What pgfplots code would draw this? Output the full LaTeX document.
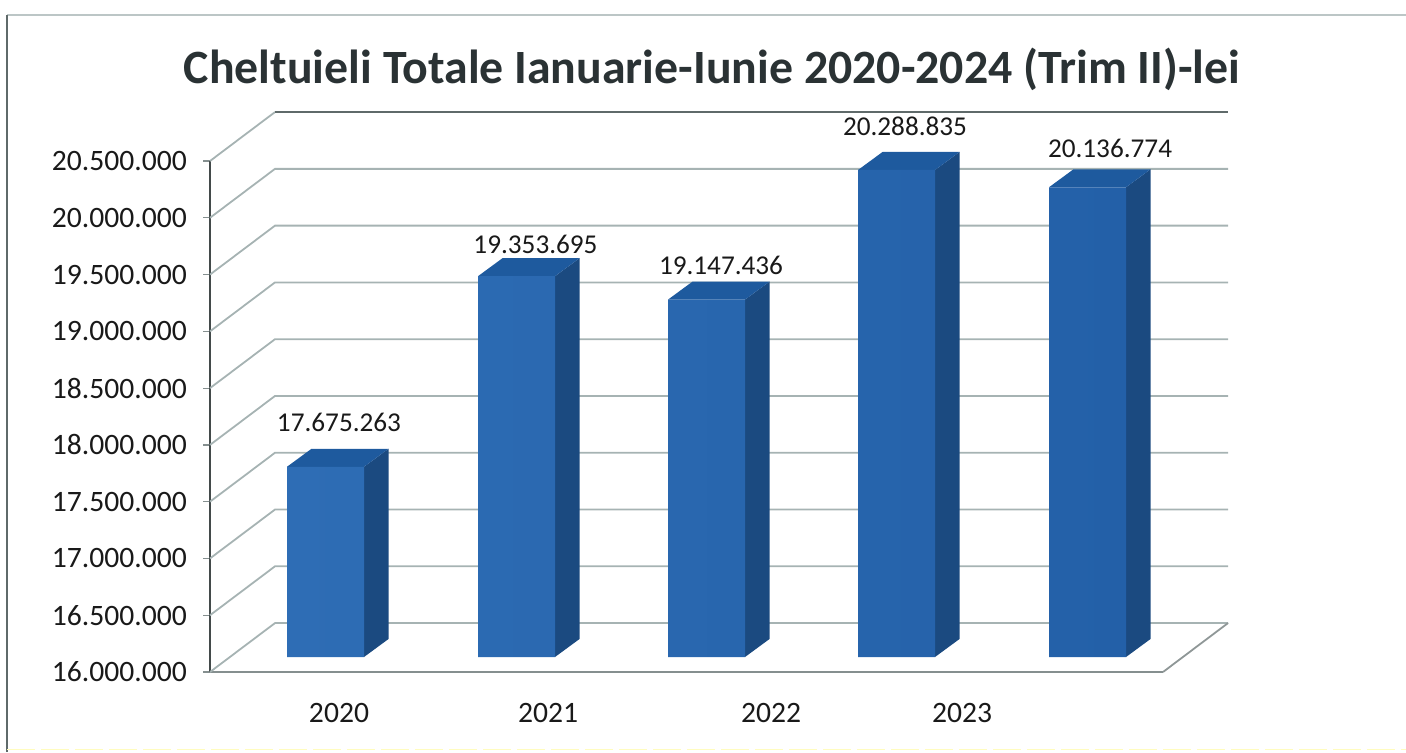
\documentclass[border=0pt]{standalone}
\usepackage{fontspec}
\usepackage{pgfplots}
\pgfplotsset{compat=1.18}
\setmainfont{Carlito}
\definecolor{gridc}{HTML}{A6B3B3}
\definecolor{darkline}{HTML}{5F6A6A}
\definecolor{titlec}{HTML}{2A3234}
\definecolor{barfrontl}{HTML}{2E6DB5}
\definecolor{barfrontr}{HTML}{2360A8}
\definecolor{bartop}{HTML}{1E5A9E}
\definecolor{barside}{HTML}{1B4A80}
\begin{document}
\begin{tikzpicture}
% 1 px of the reference = 0.5pt
\path[use as bounding box] (0,0) rectangle (703pt,376pt);
% scanned frame
\draw[gridc!75,line width=0.7pt] (3.5pt,368.5pt) -- (703pt,368.5pt);
\draw[darkline,line width=0.8pt] (3.5pt,368.5pt) -- (3.5pt,0pt);
\draw[yellow!25,line width=0.8pt,dash pattern=on 14pt off 3pt] (3.5pt,1.2pt) -- (703pt,1.2pt);

\begin{axis}[
    at={(105pt,40pt)}, anchor=south west,
    scale only axis,
    width=476.5pt, height=255.5pt,
    xmin=210, xmax=1163,
    ymin=16000000, ymax=20500000,
    clip=false,
    axis x line=bottom, axis y line=left,
    axis line style={-},
    x axis line style={gridc!80!black,line width=0.8pt},
    y axis line style={darkline!70!black,line width=0.8pt},
    xtick={339,548,771,962},
    xticklabels={2020,2021,2022,2023},
    x tick style={draw=none},
    xticklabel style={font=\fontsize{14.8}{16}\selectfont,text=black!90,yshift=-8.5pt},
    ytick distance=500000,
    tick align=outside,
    y tick style={gridc!80!black,line width=0.6pt},
    major tick length=3.5pt,
    scaled y ticks=false,
    yticklabel style={font=\fontsize{14.8}{16}\selectfont,text=black!90,xshift=-4.5pt,
        /pgf/number format/fixed,/pgf/number format/1000 sep={.},
        /pgf/number format/assume math mode=true},
    title={\bfseries Cheltuieli Totale Ianuarie-Iunie 2020-2024 (Trim II)-lei},
    title style={at={(0.5268,1.1565)},anchor=center,text=titlec,
        font=\fontsize{23.9}{27}\selectfont},
]
\pgfplotsset{every axis plot/.append style={no markers}}
\addplot[gridc,line width=0.9pt] coordinates {(210,16000000) (275,16431000) (1228,16431000)};
\addplot[gridc,line width=0.9pt] coordinates {(210,16500000) (275,16931000) (1228,16931000)};
\addplot[gridc,line width=0.9pt] coordinates {(210,17000000) (275,17431000) (1228,17431000)};
\addplot[gridc,line width=0.9pt] coordinates {(210,17500000) (275,17931000) (1228,17931000)};
\addplot[gridc,line width=0.9pt] coordinates {(210,18000000) (275,18431000) (1228,18431000)};
\addplot[gridc,line width=0.9pt] coordinates {(210,18500000) (275,18931000) (1228,18931000)};
\addplot[gridc,line width=0.9pt] coordinates {(210,19000000) (275,19431000) (1228,19431000)};
\addplot[gridc,line width=0.9pt] coordinates {(210,19500000) (275,19931000) (1228,19931000)};
\addplot[gridc,line width=0.9pt] coordinates {(210,20000000) (275,20431000) (1228,20431000)};
\addplot[gridc,line width=0.9pt] coordinates {(210,20500000) (275,20931000)};
\addplot[darkline,line width=0.9pt] coordinates {(275,20931000) (1228,20931000)};
\addplot[darkline!70,line width=0.9pt] coordinates {(1163,16000000) (1228,16431000)};
\end{axis}

% bars stand 15 px above the front edge of the floor
\begin{axis}[
    at={(105pt,47.5pt)}, anchor=south west,
    scale only axis,
    width=476.5pt, height=255.5pt,
    xmin=210, xmax=1163,
    ymin=16000000, ymax=20500000,
    clip=false,
    hide axis,
]
% side faces
\addplot[fill=barside,draw=none] coordinates {(364,16000000) (388.5,16158500) (388.5,17833763) (364,17675263)} -- cycle;
\addplot[fill=barside,draw=none] coordinates {(555,16000000) (579.5,16158500) (579.5,19512195) (555,19353695)} -- cycle;
\addplot[fill=barside,draw=none] coordinates {(745,16000000) (769.5,16158500) (769.5,19305936) (745,19147436)} -- cycle;
\addplot[fill=barside,draw=none] coordinates {(935,16000000) (959.5,16158500) (959.5,20447335) (935,20288835)} -- cycle;
\addplot[fill=barside,draw=none] coordinates {(1126,16000000) (1150.5,16158500) (1150.5,20295274) (1126,20136774)} -- cycle;
% top faces
\addplot[fill=bartop,draw=none] coordinates {(287,17675263) (311.5,17833763) (388.5,17833763) (364,17675263)} -- cycle;
\addplot[fill=bartop,draw=none] coordinates {(478,19353695) (502.5,19512195) (579.5,19512195) (555,19353695)} -- cycle;
\addplot[fill=bartop,draw=none] coordinates {(668,19147436) (692.5,19305936) (769.5,19305936) (745,19147436)} -- cycle;
\addplot[fill=bartop,draw=none] coordinates {(858,20288835) (882.5,20447335) (959.5,20447335) (935,20288835)} -- cycle;
\addplot[fill=bartop,draw=none] coordinates {(1049,20136774) (1073.5,20295274) (1150.5,20295274) (1126,20136774)} -- cycle;
% front faces
\addplot[ybar,bar width=77,draw=none,left color=barfrontl,right color=barfrontr] coordinates {
    (325.5,17675263) (516.5,19353695) (706.5,19147436) (896.5,20288835) (1087.5,20136774)};
% value labels
\addplot[draw=none,mark=none,
    nodes near coords,point meta=explicit symbolic,
    every node near coord/.style={anchor=center,inner sep=0pt,text=black!90,
        font=\fontsize{13.6}{15}\selectfont}]
    table[meta=label] {
x y label
339 18068705 17.675.263
535.5 19635639 19.353.695
721 19450776 19.147.436
905 20674393 20.288.835
1110 20480727 20.136.774
};
\end{axis}
\end{tikzpicture}
\end{document}
